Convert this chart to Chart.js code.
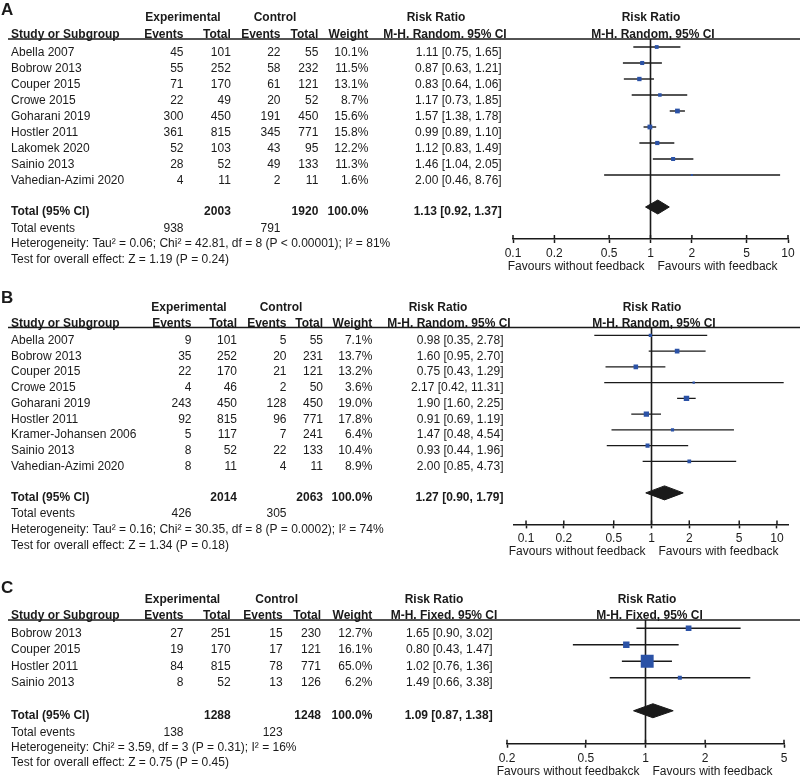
<!DOCTYPE html>
<html>
<head>
<meta charset="utf-8">
<script src="https://cdn.jsdelivr.net/npm/chart.js@4.4.1/dist/chart.umd.min.js"></script>
<style>
  html, body { margin: 0; padding: 0; background: #fff; }
  #wrap { position: relative; width: 800px; height: 776px; }
  canvas { position: absolute; left: 0; }
</style>
</head>
<body>
<div id="wrap">
  <canvas id="chartA" width="800" height="280" style="top:0px"></canvas>
  <canvas id="chartB" width="800" height="280" style="top:280px"></canvas>
  <canvas id="chartC" width="800" height="216" style="top:560px"></canvas>
</div>
<script>
// ---- panel A: random effects ----
const studiesA = ['Abella 2007', 'Bobrow 2013', 'Couper 2015', 'Crowe 2015', 'Goharani 2019', 'Hostler 2011', 'Lakomek 2020', 'Sainio 2013', 'Vahedian-Azimi 2020'];
const expEventsA = [45, 55, 71, 22, 300, 361, 52, 28, 4];
const expTotalA = [101, 252, 170, 49, 450, 815, 103, 52, 11];
const ctrlEventsA = [22, 58, 61, 20, 191, 345, 43, 49, 2];
const ctrlTotalA = [55, 232, 121, 52, 450, 771, 95, 133, 11];
const weightA = [10.1, 11.5, 13.1, 8.7, 15.6, 15.8, 12.2, 11.3, 1.6];
const rrA = [1.11, 0.87, 0.83, 1.17, 1.57, 0.99, 1.12, 1.46, 2.00];
const lowA = [0.75, 0.63, 0.64, 0.73, 1.38, 0.89, 0.83, 1.04, 0.46];
const highA = [1.65, 1.21, 1.06, 1.85, 1.78, 1.10, 1.49, 2.05, 8.76];
const overallA = [1.13, 0.92, 1.37];       // estimate, low, high
const totalsA = [938, 2003, 791, 1920];    // exp events, exp total, ctrl events, ctrl total
const ticksA = [0.1, 0.2, 0.5, 1, 2, 5, 10];
const notesA = ['Heterogeneity: Tau² = 0.06; Chi² = 42.81, df = 8 (P < 0.00001); I² = 81%',
                'Test for overall effect: Z = 1.19 (P = 0.24)'];

// ---- panel B ----
const studiesB = ['Abella 2007', 'Bobrow 2013', 'Couper 2015', 'Crowe 2015', 'Goharani 2019', 'Hostler 2011', 'Kramer-Johansen 2006', 'Sainio 2013', 'Vahedian-Azimi 2020'];
const expEventsB = [9, 35, 22, 4, 243, 92, 5, 8, 8];
const expTotalB = [101, 252, 170, 46, 450, 815, 117, 52, 11];
const ctrlEventsB = [5, 20, 21, 2, 128, 96, 7, 22, 4];
const ctrlTotalB = [55, 231, 121, 50, 450, 771, 241, 133, 11];
const weightB = [7.1, 13.7, 13.2, 3.6, 19.0, 17.8, 6.4, 10.4, 8.9];
const rrB = [0.98, 1.60, 0.75, 2.17, 1.90, 0.91, 1.47, 0.93, 2.00];
const lowB = [0.35, 0.95, 0.43, 0.42, 1.60, 0.69, 0.48, 0.44, 0.85];
const highB = [2.78, 2.70, 1.29, 11.31, 2.25, 1.19, 4.54, 1.96, 4.73];
const overallB = [1.27, 0.90, 1.79];
const totalsB = [426, 2014, 305, 2063];
const ticksB = [0.1, 0.2, 0.5, 1, 2, 5, 10];
const notesB = ['Heterogeneity: Tau² = 0.16; Chi² = 30.35, df = 8 (P = 0.0002); I² = 74%',
                'Test for overall effect: Z = 1.34 (P = 0.18)'];

// ---- panel C: fixed effect ----
const studiesC = ['Bobrow 2013', 'Couper 2015', 'Hostler 2011', 'Sainio 2013'];
const expEventsC = [27, 19, 84, 8];
const expTotalC = [251, 170, 815, 52];
const ctrlEventsC = [15, 17, 78, 13];
const ctrlTotalC = [230, 121, 771, 126];
const weightC = [12.7, 16.1, 65.0, 6.2];
const rrC = [1.65, 0.80, 1.02, 1.49];
const lowC = [0.90, 0.43, 0.76, 0.66];
const highC = [3.02, 1.47, 1.36, 3.38];
const overallC = [1.09, 0.87, 1.38];
const totalsC = [138, 1288, 123, 1248];
const ticksC = [0.2, 0.5, 1, 2, 5];
const notesC = ['Heterogeneity: Chi² = 3.59, df = 3 (P = 0.31); I² = 16%',
                'Test for overall effect: Z = 0.75 (P = 0.45)'];

const INK = '#1a1a1a';
const BLUE = '#2b52a6';
const FONT = '"Liberation Sans", Arial, Helvetica, sans-serif';
const AXIS_H = 30;

Chart.defaults.font.family = FONT;
Chart.defaults.font.size = 12;
Chart.defaults.color = INK;

function ciText(v, lo, hi) {
  return v.toFixed(2) + ' [' + lo.toFixed(2) + ', ' + hi.toFixed(2) + ']';
}

function makePanel(id, p, L) {
  const n = p.studies.length;
  const yMin = -0.5, yMax = n + 3, totRow = n + 1;
  const canvas = document.getElementById(id);
  const H = canvas.height;
  const chartBottom = L.top + (yMax - yMin) * L.step;
  const dh = 7 / L.step;
  const [est, oLo, oHi] = p.overall;

  const datasets = [];
  datasets.push({
    data: p.rr.map((v, i) => ({ x: v, y: i })),
    showLine: false,
    pointStyle: 'rect',
    pointRadius: p.weight.map(w => Math.max(2, L.box * Math.sqrt(w)) / Math.SQRT2),
    pointBackgroundColor: BLUE,
    pointBorderWidth: 0,
    order: 0
  });
  p.low.forEach((lo, i) => {
    datasets.push({
      data: [{ x: lo, y: i }, { x: p.high[i], y: i }],
      borderColor: INK, borderWidth: 1.4, pointRadius: 0, order: 1
    });
  });
  // pooled diamond: upper half filled down to the lower half
  datasets.push({
    data: [{ x: oLo, y: totRow }, { x: est, y: totRow - dh }, { x: oHi, y: totRow }],
    fill: '+1', backgroundColor: INK, borderColor: INK, borderWidth: 1, pointRadius: 0, order: 1
  });
  datasets.push({
    data: [{ x: oLo, y: totRow }, { x: est, y: totRow + dh }, { x: oHi, y: totRow }],
    borderColor: INK, borderWidth: 1, pointRadius: 0, order: 1
  });
  // line of no effect
  datasets.push({
    data: [{ x: 1, y: yMin }, { x: 1, y: yMax }],
    borderColor: INK, borderWidth: 1.6, pointRadius: 0, order: 2
  });

  const tablePlugin = {
    id: 'table' + id,
    afterDraw(chart) {
      const ctx = chart.ctx;
      const ys = chart.scales.y, xs = chart.scales.x;
      const area = chart.chartArea;
      const rowY = r => ys.getPixelForValue(r);
      const top = area.top, ay = area.bottom;
      const c = L.cols, h = L.hdr;

      function txt(s, x, y, align, bold, size) {
        ctx.font = (bold ? 'bold ' : '') + (size || 12) + 'px ' + FONT;
        ctx.textAlign = align || 'left';
        ctx.textBaseline = 'alphabetic';
        ctx.fillText(s, x, y);
      }

      ctx.save();
      ctx.fillStyle = INK;
      ctx.strokeStyle = INK;

      // header rule
      ctx.lineWidth = 1.4;
      ctx.beginPath(); ctx.moveTo(8, top); ctx.lineTo(800, top); ctx.stroke();

      // upper halves of the axis ticks
      ctx.lineWidth = 1.5;
      xs.ticks.forEach(t => {
        const px = xs.getPixelForValue(t.value);
        ctx.beginPath(); ctx.moveTo(px, ay - 4); ctx.lineTo(px, ay); ctx.stroke();
      });

      // headers
      txt(L.letter, 1, top - L.letterGap, 'left', true, 17);
      const r1 = top - L.hdrGap, r2 = top - 1;
      txt('Experimental', h.exp, r1, 'center', true);
      txt('Control', h.ctl, r1, 'center', true);
      txt('Risk Ratio', h.rr1, r1, 'center', true);
      txt('Risk Ratio', h.f1, r1, 'center', true);
      txt('Study or Subgroup', 11, r2, 'left', true);
      txt('Events', c.ee, r2, 'right', true);
      txt('Total', c.et, r2, 'right', true);
      txt('Events', c.ce, r2, 'right', true);
      txt('Total', c.ct, r2, 'right', true);
      txt('Weight', c.w, r2, 'right', true);
      txt(p.method[0], h.rr2, r2, 'center', true);
      txt(p.method[1], h.f2, r2, 'center', true);

      // study rows
      p.studies.forEach((s, i) => {
        const y = rowY(i) + 8.5;
        txt(s, 11, y);
        txt(String(p.expEvents[i]), c.ee, y, 'right');
        txt(String(p.expTotal[i]), c.et, y, 'right');
        txt(String(p.ctrlEvents[i]), c.ce, y, 'right');
        txt(String(p.ctrlTotal[i]), c.ct, y, 'right');
        txt(p.weight[i].toFixed(1) + '%', c.w, y, 'right');
        txt(ciText(p.rr[i], p.low[i], p.high[i]), c.rr, y, 'right');
      });

      // totals and notes
      const ty = rowY(totRow) + 8;
      txt('Total (95% CI)', 11, ty, 'left', true);
      txt(String(p.totals[1]), c.et, ty, 'right', true);
      txt(String(p.totals[3]), c.ct, ty, 'right', true);
      txt('100.0%', c.w, ty, 'right', true);
      txt(ciText(est, oLo, oHi), c.rr, ty, 'right', true);
      txt('Total events', 11, ty + L.foot[0]);
      txt(String(p.totals[0]), c.ee, ty + L.foot[0], 'right');
      txt(String(p.totals[2]), c.ce, ty + L.foot[0], 'right');
      txt(p.notes[0], 11, ty + L.foot[1]);
      txt(p.notes[1], 11, ty + L.foot[2]);

      // favours labels
      const one = xs.getPixelForValue(1);
      txt(p.favours[0], one - 6, ay + 31, 'right');
      txt(p.favours[1], one + 7, ay + 31, 'left');
      ctx.restore();
    }
  };

  return new Chart(canvas, {
    type: 'line',
    data: { datasets: datasets },
    options: {
      responsive: false,
      animation: false,
      events: [],
      layout: { padding: { left: L.plotLeft, right: 800 - L.plotRight, top: L.top, bottom: H - chartBottom - AXIS_H } },
      plugins: { legend: { display: false }, tooltip: { enabled: false } },
      elements: { line: { tension: 0 } },
      scales: {
        x: {
          type: 'logarithmic',
          min: L.xMin, max: L.xMax,
          afterBuildTicks: s => { s.ticks = p.ticks.map(v => ({ value: v })); },
          afterFit: s => { s.height = AXIS_H; },
          ticks: { autoSkip: false, maxRotation: 0, padding: 3.5, color: INK, font: { size: 12 }, callback: v => String(v) },
          grid: { drawOnChartArea: false, drawTicks: true, tickLength: 4, tickWidth: 1.5, tickColor: INK, color: INK },
          border: { display: true, color: INK, width: 1.5 }
        },
        y: { type: 'linear', display: false, reverse: true, min: yMin, max: yMax }
      }
    },
    plugins: [tablePlugin]
  });
}

makePanel('chartA', {
  studies: studiesA, expEvents: expEventsA, expTotal: expTotalA, ctrlEvents: ctrlEventsA, ctrlTotal: ctrlTotalA,
  weight: weightA, rr: rrA, low: lowA, high: highA, overall: overallA, totals: totalsA, ticks: ticksA, notes: notesA,
  method: ['M-H. Random. 95% CI', 'M-H. Random, 95% CI'],
  favours: ['Favours without feedback', 'Favours with feedback']
}, {
  letter: 'A', letterGap: 24, hdrGap: 18, top: 39, step: 16, plotLeft: 513, plotRight: 788, xMin: 0.1, xMax: 10, box: 1.2,
  cols: { ee: 183.5, et: 230.8, ce: 280.5, ct: 318.3, w: 368.3, rr: 501.7 },
  hdr: { exp: 183, ctl: 275, rr1: 436, rr2: 445, f1: 651, f2: 653 },
  foot: [16.5, 32, 47.5]
});

makePanel('chartB', {
  studies: studiesB, expEvents: expEventsB, expTotal: expTotalB, ctrlEvents: ctrlEventsB, ctrlTotal: ctrlTotalB,
  weight: weightB, rr: rrB, low: lowB, high: highB, overall: overallB, totals: totalsB, ticks: ticksB, notes: notesB,
  method: ['M-H. Random. 95% CI', 'M-H. Random, 95% CI'],
  favours: ['Favours without feedback', 'Favours with feedback']
}, {
  letter: 'B', letterGap: 25, hdrGap: 17, top: 47.5, step: 15.75, plotLeft: 514, plotRight: 788, xMin: 0.0802, xMax: 12.24, box: 1.25,
  cols: { ee: 191.5, et: 237, ce: 286.5, ct: 323, w: 372.3, rr: 503.5 },
  hdr: { exp: 189, ctl: 281, rr1: 438, rr2: 449, f1: 652, f2: 654 },
  foot: [16.5, 32, 48]
});

makePanel('chartC', {
  studies: studiesC, expEvents: expEventsC, expTotal: expTotalC, ctrlEvents: ctrlEventsC, ctrlTotal: ctrlTotalC,
  weight: weightC, rr: rrC, low: lowC, high: highC, overall: overallC, totals: totalsC, ticks: ticksC, notes: notesC,
  method: ['M-H. Fixed. 95% CI', 'M-H. Fixed, 95% CI'],
  favours: ['Favours without feedbakck', 'Favours with feedback']
}, {
  letter: 'C', letterGap: 27.5, hdrGap: 17, top: 60, step: 16.5, plotLeft: 507, plotRight: 784, xMin: 0.2, xMax: 5, box: 1.6,
  cols: { ee: 183.5, et: 230.7, ce: 282.7, ct: 321, w: 372.3, rr: 492.7 },
  hdr: { exp: 182.5, ctl: 276.7, rr1: 434, rr2: 444, f1: 647, f2: 649.5 },
  foot: [17.5, 32.5, 47.5]
});
</script>
</body>
</html>
